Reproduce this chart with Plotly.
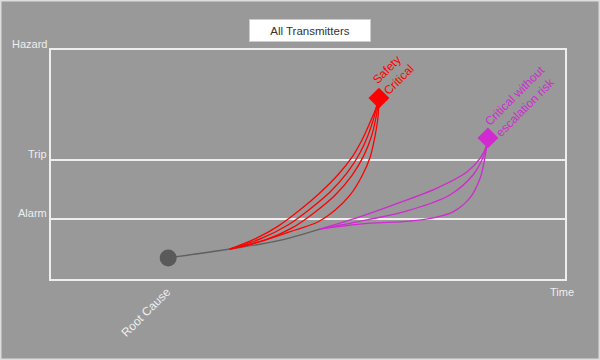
import plotly.graph_objects as go

# ---- data (time 0..100, level 0..100) ----
levels = {"Alarm": 26.0, "Trip": 52.0, "Hazard": 100.0}

root_x, root_y = [22.8], [9.2]
gray_x = [22.8, 34.8, 44.0, 52.3]
gray_y = [9.2, 13.1, 16.6, 21.8]

safety_x, safety_y = [63.8], [79.0]
crit_x, crit_y = [85.0], [61.6]

red_x = [
    [34.8, 39.7, 44.2, 48.4, 52.3, 55.8, 58.6, 60.5, 62.1, 63.1, 63.8],
    [34.8, 40.7, 46.1, 50.4, 54.3, 57.6, 60.1, 61.7, 62.8, 63.8],
    [34.8, 41.6, 46.9, 51.4, 55.3, 58.6, 60.9, 62.3, 63.2, 63.8],
    [34.8, 41.1, 47.5, 51.9, 55.3, 58.2, 60.5, 62.1, 63.0, 63.6, 63.8],
]
red_y = [
    [13.1, 17.5, 23.1, 30.1, 37.6, 45.4, 53.3, 60.7, 68.6, 73.8, 79.0],
    [13.1, 17.5, 23.6, 30.6, 38.0, 46.3, 55.0, 62.9, 70.3, 79.0],
    [13.1, 17.0, 22.3, 29.3, 36.7, 45.4, 54.1, 62.0, 70.3, 79.0],
    [13.1, 16.6, 21.4, 24.9, 30.1, 36.7, 45.0, 53.3, 62.0, 70.3, 79.0],
]
mag_x = [
    [52.3, 58.2, 66.5, 75.1, 80.9, 83.5, 84.8, 85.0],
    [52.3, 61.5, 69.8, 77.6, 82.1, 84.0, 84.8, 85.0],
    [52.3, 60.1, 69.8, 74.1, 78.2, 81.5, 83.5, 84.4, 85.0],
]
mag_y = [
    [21.8, 25.8, 32.3, 39.7, 46.7, 52.8, 58.5, 61.6],
    [21.8, 25.8, 30.1, 36.7, 45.4, 52.8, 58.5, 61.6],
    [21.8, 24.0, 25.3, 26.6, 29.3, 35.4, 44.1, 52.8, 61.6],
]

RED = "#ff0000"
MAG = "#d02ad0"
GRAY = "#5a5a5a"
LIGHT = "#eeeeee"
FONT = "Liberation Sans, Arial, sans-serif"

fig = go.Figure()
fig.add_trace(go.Scatter(x=gray_x, y=gray_y, mode="lines",
                         line=dict(color="#606060", width=1.3, shape="spline"),
                         hoverinfo="skip"))
for xs, ys in zip(red_x, red_y):
    fig.add_trace(go.Scatter(x=xs, y=ys, mode="lines",
                             line=dict(color=RED, width=1.3, shape="spline"),
                             hoverinfo="skip"))
for xs, ys in zip(mag_x, mag_y):
    fig.add_trace(go.Scatter(x=xs, y=ys, mode="lines",
                             line=dict(color=MAG, width=1.3, shape="spline"),
                             hoverinfo="skip"))
fig.add_trace(go.Scatter(x=root_x, y=root_y, mode="markers",
                         marker=dict(color=GRAY, size=17, symbol="circle")))
fig.add_trace(go.Scatter(x=safety_x, y=safety_y, mode="markers",
                         marker=dict(color=RED, size=16, symbol="diamond")))
fig.add_trace(go.Scatter(x=crit_x, y=crit_y, mode="markers",
                         marker=dict(color=MAG, size=16, symbol="diamond")))

annotations = []
for name, val in levels.items():
    annotations.append(dict(text=name, xref="x domain", x=0, xanchor="right", xshift=-2,
                            yref="y", y=val, yanchor="middle", yshift=6,
                            showarrow=False, font=dict(family=FONT, size=11, color=LIGHT)))
annotations.append(dict(text="Time", xref="x domain", x=1, xanchor="center", xshift=-3,
                        yref="y domain", y=0, yanchor="middle", yshift=-13,
                        showarrow=False, font=dict(family=FONT, size=11, color=LIGHT)))
annotations.append(dict(text="Root Cause", xref="x", x=root_x[0], yref="y", y=root_y[0],
                        xshift=-22, yshift=-54, textangle=-45, showarrow=False,
                        font=dict(family=FONT, size=12, color=LIGHT)))
annotations.append(dict(text="Safety<br>Critical", xref="x", x=safety_x[0], yref="y", y=safety_y[0],
                        xshift=15, yshift=24, textangle=-45, showarrow=False, align="left",
                        font=dict(family=FONT, size=12, color=RED)))
annotations.append(dict(text="Critical without<br>escalation risk", xref="x", x=crit_x[0], yref="y",
                        y=crit_y[0], xshift=33, yshift=37, textangle=-45, showarrow=False,
                        align="left", font=dict(family=FONT, size=12, color=MAG)))
annotations.append(dict(text="All Transmitters", xref="paper", x=310 / 600, yref="paper",
                        y=1 - 30.5 / 360, xanchor="center", yanchor="middle", showarrow=False,
                        bgcolor="#ffffff", bordercolor="#cccccc", borderwidth=1,
                        width=118, height=19,
                        font=dict(family=FONT, size=11.5, color="#333333")))

fig.update_layout(
    width=600, height=360,
    margin=dict(l=0, r=0, t=0, b=0),
    paper_bgcolor="#999999", plot_bgcolor="#999999",
    showlegend=False,
    annotations=annotations,
    shapes=[dict(type="rect", xref="paper", yref="paper", x0=0, x1=1, y0=0, y1=1,
                 line=dict(color="#dddddd", width=3))],
    xaxis=dict(domain=[51 / 600, 565 / 600], range=[0, 100], showgrid=False,
               zeroline=False, showticklabels=False, ticks="",
               showline=True, mirror=True, linecolor=LIGHT, linewidth=2),
    yaxis=dict(domain=[81 / 360, 310 / 360], range=[0, 100],
               tickvals=[levels["Alarm"], levels["Trip"]], showgrid=True,
               gridcolor=LIGHT, gridwidth=2, zeroline=False, showticklabels=False,
               ticks="", showline=True, mirror=True, linecolor=LIGHT, linewidth=2),
)

fig.write_html("out.html")
